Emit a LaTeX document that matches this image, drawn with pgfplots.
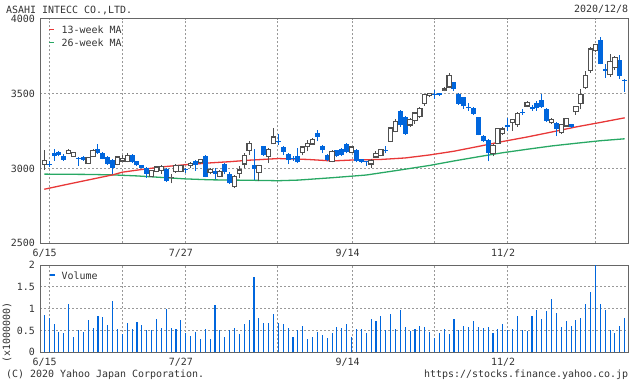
\documentclass[border=0pt]{standalone}
\usepackage{pgfplots}
\pgfplotsset{compat=1.18}
\usepackage{pgfplotstable}
\usepackage{fontspec}
\setmainfont{DejaVu Sans Mono}

\definecolor{txt}{HTML}{333333}
\definecolor{framegray}{HTML}{666666}
\definecolor{gridgray}{HTML}{999999}
\definecolor{candblue}{RGB}{0,102,221}
\definecolor{candgray}{HTML}{505050}
\definecolor{mared}{RGB}{232,56,56}
\definecolor{magreen}{RGB}{40,168,100}

\pgfplotstableread{
i O H L C
1 3027 3120 2992 3055
6 3100 3128 3095 3122
7 3082 3110 3078 3105
10 3035 3075 3030 3071
11 3078 3128 3075 3122
16 3027 3080 3020 3076
17 3050 3090 3040 3068
18 3044 3100 3040 3089
23 2948 2990 2940 2986
24 2982 3015 2975 3009
25 2986 3025 2965 3015
27 2937 2960 2900 2941
28 2978 3030 2970 3022
29 2980 3025 2975 3020
31 3020 3045 3005 3031
33 3040 3065 3030 3058
35 2975 3000 2960 2995
37 2948 2990 2940 2982
40 2880 2955 2868 2948
41 2964 3013 2935 2990
42 3029 3100 3002 3085
43 3120 3180 3091 3165
45 2973 3025 2913 3022
47 3080 3135 3035 3129
48 3165 3270 3160 3210
54 3109 3147 3087 3143
55 3147 3187 3114 3169
56 3163 3203 3158 3192
60 3047 3120 3040 3114
64 3109 3150 3100 3143
68 3029 3060 3002 3051
69 3076 3118 3069 3102
70 3087 3130 3080 3125
72 3181 3280 3175 3270
73 3248 3330 3240 3314
76 3290 3335 3280 3325
77 3320 3380 3300 3370
78 3345 3410 3340 3400
79 3435 3500 3420 3495
80 3490 3505 3475 3500
83 3522 3545 3515 3530
84 3544 3640 3535 3620
93 3102 3160 3080 3154
94 3169 3270 3160 3265
95 3232 3280 3225 3263
97 3308 3330 3253 3325
98 3294 3375 3277 3368
100 3417 3450 3410 3440
105 3305 3335 3300 3328
107 3238 3300 3232 3294
108 3283 3340 3278 3332
110 3379 3418 3357 3413
111 3433 3529 3395 3495
112 3540 3651 3529 3618
113 3656 3808 3640 3797
114 3785 3830 3775 3825
117 3629 3763 3611 3714
118 3674 3750 3660 3741
}\upc

\pgfplotstableread{
i O H L C
2 3028 3050 3008 3020
3 3106 3130 3050 3083
4 3110 3118 3080 3090
5 3085 3095 3050 3058
8 3070 3076 3015 3065
9 3075 3080 3050 3058
12 3131 3165 3095 3102
13 3105 3110 3060 3064
14 3075 3080 3025 3031
15 3055 3062 2960 3004
19 3093 3095 3038 3042
20 3049 3052 3015 3020
21 3020 3025 3000 3004
22 3004 3008 2937 2966
26 2993 3000 2910 2915
30 2992 3005 2970 2988
32 3049 3055 2982 3022
34 3085 3090 2940 2946
36 2985 3000 2928 2962
38 3030 3035 2960 2975
39 2966 2975 2895 2900
44 3024 3129 2924 2995
46 3147 3150 3085 3091
49 3185 3230 3158 3176
50 3143 3150 3091 3109
51 3096 3100 3029 3053
52 3065 3080 3050 3060
53 3084 3136 3035 3040
57 3236 3259 3181 3210
58 3152 3155 3102 3120
59 3091 3095 3051 3055
61 3120 3125 3075 3080
62 3129 3135 3085 3091
63 3165 3170 3100 3107
65 3125 3128 3040 3047
66 3062 3065 3035 3042
67 3045 3050 3015 3040
71 3125 3150 3100 3118
74 3381 3393 3280 3292
75 3343 3350 3225 3232
81 3498 3525 3465 3492
82 3497 3500 3485 3493
85 3576 3580 3520 3531
86 3500 3505 3425 3433
87 3475 3480 3400 3415
88 3410 3435 3385 3404
89 3404 3410 3360 3364
90 3343 3345 3220 3225
91 3219 3222 3175 3181
92 3192 3195 3047 3102
96 3290 3337 3248 3274
99 3380 3395 3357 3372
101 3413 3425 3385 3395
102 3440 3450 3385 3405
103 3455 3500 3405 3410
104 3399 3402 3310 3316
106 3305 3310 3216 3261
109 3299 3300 3270 3276
115 3857 3879 3695 3700
116 3667 3696 3607 3652
119 3727 3759 3596 3618
120 3590 3595 3513 3585
}\dnc

\pgfplotstableread{
i v
1 0.85
2 0.79
3 0.65
4 0.47
5 0.44
6 1.11
7 0.35
8 0.52
9 0.47
10 0.75
11 0.56
12 0.84
13 0.81
14 0.63
15 1.18
16 0.54
17 0.42
18 0.67
19 0.53
20 0.69
21 0.63
22 0.52
23 0.50
24 0.77
25 0.56
26 1.00
27 0.56
28 0.53
29 0.75
30 0.44
31 0.38
32 0.47
33 0.31
34 0.53
35 0.31
36 1.08
37 0.52
38 0.34
39 0.50
40 0.56
41 0.42
42 0.65
43 0.74
44 1.73
45 0.79
46 0.67
47 0.67
48 0.88
49 0.67
50 0.65
51 0.56
52 0.35
53 0.52
54 0.60
55 0.31
56 0.35
57 0.47
58 0.40
59 0.33
60 0.44
61 0.58
62 0.56
63 0.65
64 0.35
65 0.53
66 0.53
67 0.44
68 0.76
69 0.72
70 0.83
71 0.51
72 0.88
73 0.53
74 0.97
75 0.58
76 0.49
77 0.53
78 0.60
79 0.58
80 0.47
81 0.33
82 0.44
83 0.53
84 0.42
85 0.76
86 0.51
87 0.60
88 0.58
89 0.72
90 0.58
91 0.56
92 0.58
93 0.44
94 0.53
95 0.65
96 0.51
97 0.53
98 0.83
99 0.51
100 0.49
101 0.83
102 0.97
103 0.76
104 0.95
105 1.22
106 0.90
107 0.58
108 0.72
109 0.60
110 0.74
111 0.79
112 1.11
113 1.38
114 2.00
115 1.11
116 0.97
117 0.51
118 0.44
119 0.60
120 0.79
}\vol

\pgfplotstableread{
i m
1 2861
5 2889
10 2923
15 2957
17 2975
21 2993
25 3010
30 3025
35 3037
39 3045
43 3055
49 3066
55 3060
60 3050
64 3056
70 3060
75 3070
80 3090
85 3115
90 3147
95 3180
100 3210
105 3243
110 3277
115 3307
120 3338
}\maA

\pgfplotstableread{
i m
1 2962
10 2960
15 2957
20 2950
24 2942
30 2930
35 2924
43 2921
49 2918
53 2922
60 2938
67 2956
73 2985
80 3020
85 3050
90 3078
95 3105
100 3128
105 3150
110 3168
115 3185
120 3198
}\maB

\pgfplotsset{
  chartbase/.style={
    scale only axis, width=588bp,
    xmin=0.118, xmax=120.68, enlargelimits=false,
    axis line style={draw=framegray, line width=1bp},
    grid=major,
    major grid style={draw=gridgray, line width=1bp, dash pattern=on 2bp off 2bp},
    major tick length=0pt,
    xtick={2,17,29.9,48.9,64.1,81,96,114.1},
    xticklabels={6/15,,7/27,,9/14,,11/2,},
    xticklabel style={anchor=base, yshift=-13bp, xshift=-4.5bp, inner sep=0pt, font=\fontsize{10}{12}\selectfont, text=txt},
    yticklabel style={anchor=east, inner sep=0pt, xshift=-5bp, font=\fontsize{10}{12}\selectfont, text=txt},
  },
  wick/.style={forget plot, draw=none, mark=none,
    error bars/.cd, y dir=plus, y explicit, error mark=none,
    error bar style={draw=#1, solid, line width=1bp}},
  body/.style 2 args={forget plot, draw=none, mark=none,
    error bars/.cd, y dir=plus, y explicit, error mark=none,
    error bar style={draw=#1, solid, line width=#2}},
}

\begin{document}
\begin{tikzpicture}[x=1bp,y=1bp]
\useasboundingbox (0,0) rectangle (630,382);

\begin{axis}[chartbase,
  at={(40bp,138.7bp)}, anchor=south west, height=224.6bp,
  ymin=2500, ymax=4000,
  ytick={2500,3000,3500,4000}, yticklabels={2500,3000,3500,4000},
]
% moving averages
\addplot[forget plot, mark=none, draw=magreen, line width=1.3bp] table[x=i,y=m] {\maB};
\addplot[forget plot, mark=none, draw=mared, line width=1.3bp] table[x=i,y=m] {\maA};
% wicks
\addplot[wick=candgray] table[x=i, y=L, y error expr=\thisrow{H}-\thisrow{L}] {\upc};
\addplot[wick=candblue] table[x=i, y=L, y error expr=\thisrow{H}-\thisrow{L}] {\dnc};
% down bodies
\addplot[body={candblue}{5bp}] table[x=i, y=C, y error expr={max(\thisrow{O}-\thisrow{C},8)}] {\dnc};
% up bodies: outline then white inside
\addplot[body={candgray}{5.4bp}] table[x=i, y expr=\thisrow{O}-4, y error expr={max(\thisrow{C}-\thisrow{O},0)+8}] {\upc};
\addplot[body={white}{3.2bp}] table[x=i, y expr=\thisrow{O}+4, y error expr={max(\thisrow{C}-\thisrow{O}-8,0.01)}] {\upc};
\end{axis}

\begin{axis}[chartbase,
  at={(40bp,29.7bp)}, anchor=south west, height=87.3bp,
  ymin=0, ymax=2,
  ytick={0,0.5,1,1.5,2}, yticklabels={0,0.5,1,1.5,2},
]
\addplot[ycomb, mark=none, draw=candblue, line width=1.1bp] table[x=i,y=v] {\vol};
\end{axis}

% texts
\begin{scope}[font=\fontsize{10}{12}\selectfont, text=txt]
\node[anchor=base west, inner sep=0pt] at (6,368.7) {ASAHI INTECC CO.,LTD.};
\node[anchor=base east, inner sep=0pt] at (628.3,369.7) {2020/12/8};
\node[anchor=base west, inner sep=0pt] at (6,4.5) {(C) 2020 Yahoo Japan Corporation.};
\node[anchor=base east, inner sep=0pt] at (628.3,4.5) {https://stocks.finance.yahoo.co.jp};
\node[rotate=90, inner sep=0pt] at (7,49.5) {(x1000000)};
% legends
\draw[mared, line width=1.2bp] (49,352.7) -- (54,352.7);
\node[anchor=base west, inner sep=0pt] at (61.5,348.7) {13-week MA};
\draw[magreen, line width=1.2bp] (49,339.7) -- (54,339.7);
\node[anchor=base west, inner sep=0pt] at (61.5,335.3) {26-week MA};
\draw[candblue, line width=1.2bp] (50,107) -- (55,107);
\node[anchor=base west, inner sep=0pt] at (61.5,102.7) {Volume};
\end{scope}
\end{tikzpicture}
\end{document}
